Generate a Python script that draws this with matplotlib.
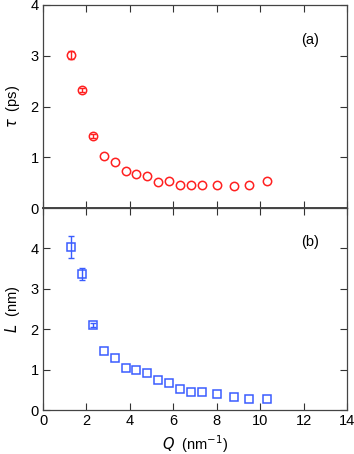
import matplotlib
matplotlib.use("Agg")
import matplotlib.pyplot as plt
import numpy as np

plt.rcParams['font.family'] = ['Liberation Sans', 'DejaVu Sans']

Q = [1.3, 1.8, 2.3, 2.8, 3.3, 3.8, 4.3, 4.8, 5.3, 5.8, 6.3, 6.8, 7.3, 8.0, 8.8, 9.5, 10.3]
tau = [3.01, 2.32, 1.41, 1.03, 0.90, 0.72, 0.67, 0.63, 0.52, 0.54, 0.46, 0.46, 0.46, 0.45, 0.43, 0.45, 0.54]
tau_err = [0.08, 0.04, 0.04, 0, 0, 0, 0, 0, 0, 0, 0, 0, 0, 0, 0, 0, 0]
L = [4.03, 3.37, 2.10, 1.46, 1.29, 1.05, 0.99, 0.91, 0.74, 0.67, 0.52, 0.45, 0.45, 0.39, 0.32, 0.28, 0.26]
L_err = [0.27, 0.15, 0.05, 0, 0, 0, 0, 0, 0, 0, 0, 0, 0, 0, 0, 0, 0]
xticks = [0, 2, 4, 6, 8, 10, 12, 14]

fig = plt.figure(figsize=(3.54, 4.54), dpi=100)
W, H = 354, 454
left, right = 43 / W, 347 / W
ax1 = fig.add_axes([left, 1 - 208 / H, right - left, (208 - 5) / H])
ax2 = fig.add_axes([left, 1 - 410 / H, right - left, (410 - 208) / H])

red = '#ff2020'
blue = '#3a5cff'
fs = 10.5


def draw(ax, x, y, e, marker, color):
    x, y, e = np.array(x), np.array(y), np.array(e)
    m = e > 0
    ax.errorbar(x[m], y[m], yerr=e[m], fmt='none', ecolor=color,
                elinewidth=1.0, capsize=2.5, capthick=1.0)
    ax.plot(x, y, marker, mfc='none', mec=color, ms=6, mew=1.1, ls='none')


draw(ax1, Q, tau, tau_err, 'o', red)
draw(ax2, Q, L, L_err, 's', blue)

for ax in (ax1, ax2):
    ax.set_xlim(0, 14)
    ax.set_xticks(xticks)
    ax.tick_params(direction='in', length=5, width=0.8, top=True, right=True,
                   labelsize=fs, colors='#333333', labelcolor='black', pad=3)
    for s in ax.spines.values():
        s.set_color('#444444')
        s.set_linewidth(0.9)

ax1.set_ylim(0, 4)
ax1.set_yticks([0, 1, 2, 3, 4])
ax1.tick_params(labelbottom=False)
ax1.spines['bottom'].set_linewidth(1.4)
ax2.set_ylim(0, 5)
ax2.set_yticks([0, 1, 2, 3, 4])

ax1.set_ylabel(r'$\tau$  (ps)', fontsize=fs, labelpad=6)
ax2.set_ylabel(r'$L$  (nm)', fontsize=fs, labelpad=6)
ax2.set_xlabel(r'$Q$  (nm$^{-1}$)', fontsize=fs, labelpad=4)

ax1.text(0.88, 0.83, '(a)', transform=ax1.transAxes, fontsize=fs, ha='center', va='center')
ax2.text(0.88, 0.83, '(b)', transform=ax2.transAxes, fontsize=fs, ha='center', va='center')

fig.savefig('out.png', dpi=100)
